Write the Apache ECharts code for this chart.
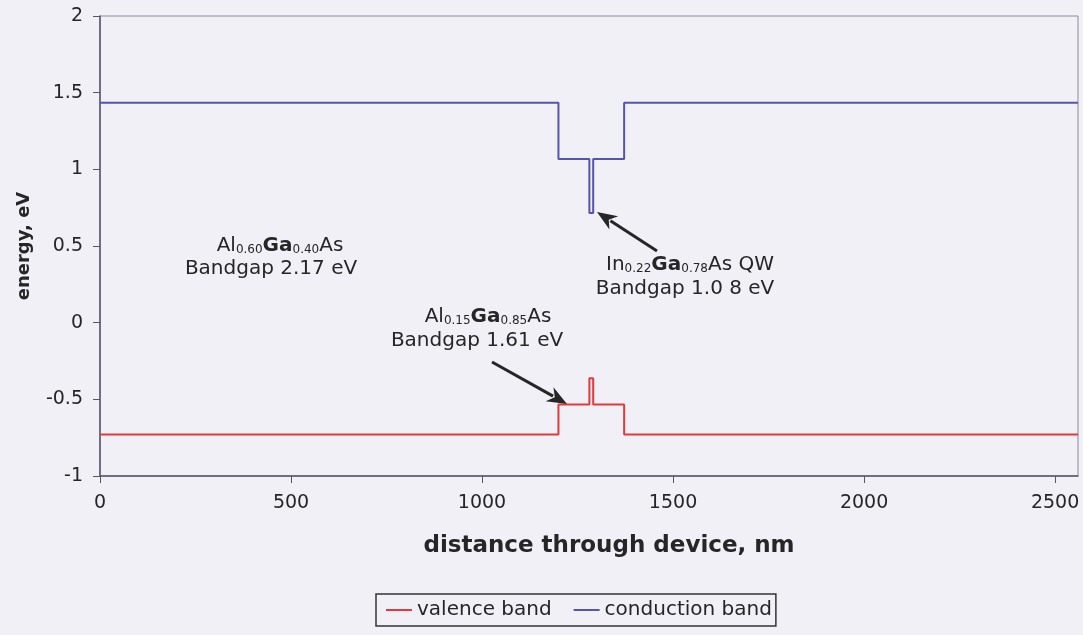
<!DOCTYPE html>
<html>
<head>
<meta charset="utf-8">
<script src="https://cdn.jsdelivr.net/npm/echarts@6/dist/echarts.min.js"></script>
<style>
html,body{margin:0;padding:0;background:#f1f0f7;}
#chart{width:1083px;height:635px;}
</style>
</head>
<body>
<div id="chart"></div>
<script>
// distance (nm) break points of the band profile
const distance = [0, 1200, 1200, 1281, 1281, 1291, 1291, 1372, 1372, 2560];
// energies (eV) at those points
const conductionBand = [1.435, 1.435, 1.068, 1.068, 0.715, 0.715, 1.068, 1.068, 1.435, 1.435];
const valenceBand = [-0.73, -0.73, -0.534, -0.534, -0.362, -0.362, -0.534, -0.534, -0.73, -0.73];
const xTicks = [0, 500, 1000, 1500, 2000, 2500];
const yTicks = [-1, -0.5, 0, 0.5, 1, 1.5, 2];
const seriesNames = ['valence band', 'conduction band'];

const FONT = '"DejaVu Sans", "Liberation Sans", Arial, sans-serif';
const INK = '#262626';
const chart = echarts.init(document.getElementById('chart'));

const pairs = (ys) => distance.map((d, i) => [d, ys[i]]);

const rich = {
  b: {fontSize: 20, fontFamily: FONT, color: INK},
  g: {fontSize: 20, fontFamily: FONT, color: INK, fontWeight: 'bold'},
  s: {fontSize: 12, fontFamily: FONT, color: '#3a3a3a', verticalAlign: 'bottom'}
};

function txt(cx, cy, s) {
  return {
    type: 'text', x: cx, y: cy, z: 10,
    style: {text: s, rich: rich, font: '20px ' + FONT, fill: INK, align: 'center', verticalAlign: 'middle'}
  };
}

function arrow(x1, y1, x2, y2) {
  const ang = Math.atan2(y2 - y1, x2 - x1);
  const L = 20, W = 8;
  const c = Math.cos(ang), s = Math.sin(ang);
  const bx = x2 - L * c, by = y2 - L * s;
  const px = -s * W, py = c * W;
  return [
    {type: 'line', z: 10, shape: {x1: x1, y1: y1, x2: bx + 4 * c, y2: by + 4 * s}, style: {stroke: INK, lineWidth: 3}},
    {type: 'polygon', z: 10, shape: {points: [[x2, y2], [bx + px, by + py], [bx + 6 * c, by + 6 * s], [bx - px, by - py]]}, style: {fill: INK}}
  ];
}

const option = {
  backgroundColor: '#f1f0f7',
  animation: false,
  textStyle: {fontFamily: FONT},
  grid: {left: 100, right: 5, top: 16, bottom: 159, show: true, borderColor: '#8a8a9a', borderWidth: 1, backgroundColor: 'transparent'},
  legend: {
    data: seriesNames,
    left: 376, top: 594,
    padding: [6, 4, 6, 10],
    borderColor: '#333', borderWidth: 1.5,
    icon: 'rect', itemWidth: 26, itemHeight: 2, itemGap: 22,
    textStyle: {fontSize: 20, fontFamily: FONT, color: INK}
  },
  xAxis: {
    type: 'value', min: 0, max: 2560,
    name: 'distance through device, nm', nameLocation: 'middle', nameGap: 59,
    nameTextStyle: {fontSize: 23, fontWeight: 'bold', fontFamily: FONT, color: INK, padding: [0, 0, 0, 40]},
    axisLine: {show: true, onZero: false, lineStyle: {color: '#55556a', width: 1.5}},
    axisTick: {show: true, length: 7, lineStyle: {color: '#55556a'}, customValues: xTicks},
    axisLabel: {fontSize: 19, fontFamily: FONT, color: INK, margin: 18, customValues: xTicks, formatter: v => String(v)},
    splitLine: {show: false}
  },
  yAxis: {
    type: 'value', min: -1, max: 2, interval: 0.5,
    name: 'energy, eV', nameLocation: 'middle', nameGap: 67, nameRotate: 90,
    nameTextStyle: {fontSize: 18, fontWeight: 'bold', fontFamily: FONT, color: INK},
    axisLine: {show: true, lineStyle: {color: '#55556a', width: 1.5}},
    axisTick: {show: true, length: 7, lineStyle: {color: '#55556a'}, customValues: yTicks},
    axisLabel: {fontSize: 19, fontFamily: FONT, color: INK, margin: 17, customValues: yTicks, formatter: v => String(v)},
    splitLine: {show: false}
  },
  series: [
    {name: seriesNames[0], type: 'line', data: pairs(valenceBand), showSymbol: false, symbol: 'none',
     lineStyle: {color: '#e03a3a', width: 2}, itemStyle: {color: '#e03a3a'}},
    {name: seriesNames[1], type: 'line', data: pairs(conductionBand), showSymbol: false, symbol: 'none',
     lineStyle: {color: '#5555aa', width: 2}, itemStyle: {color: '#5555aa'}}
  ],
  graphic: [
    txt(280, 246, '{b|Al}{s|0.60}{g|Ga}{s|0.40}{b|As}'),
    txt(271, 269, '{b|Bandgap 2.17 eV}'),
    txt(690, 265, '{b|In}{s|0.22}{g|Ga}{s|0.78}{b|As QW}'),
    txt(685, 289, '{b|Bandgap 1.0 8 eV}'),
    txt(488, 317, '{b|Al}{s|0.15}{g|Ga}{s|0.85}{b|As}'),
    txt(477, 341, '{b|Bandgap 1.61 eV}'),
    ...arrow(657, 251, 597, 212),
    ...arrow(492, 362, 567, 404)
  ]
};
chart.setOption(option);
</script>
</body>
</html>
